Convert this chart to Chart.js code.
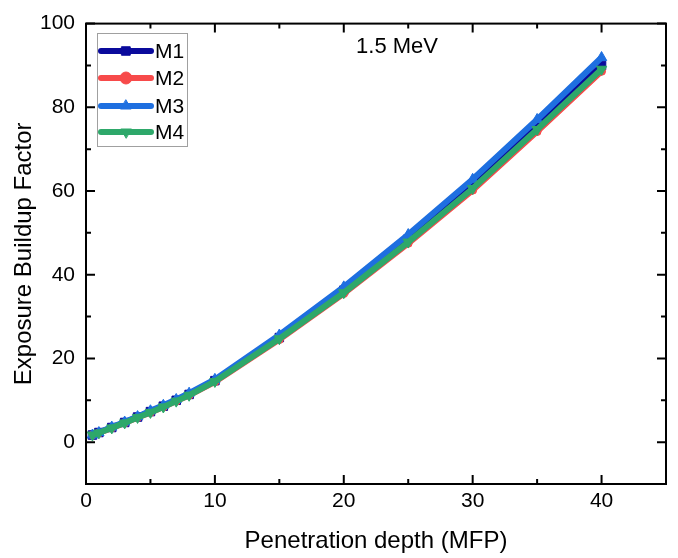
<!DOCTYPE html>
<html>
<head>
<meta charset="utf-8">
<script src="https://cdn.jsdelivr.net/npm/chart.js@4/dist/chart.umd.min.js"></script>
<style>
  html, body { margin: 0; padding: 0; background: #fff; }
  #wrap { width: 678px; height: 558px; position: relative; }
</style>
</head>
<body>
<div id="wrap"><canvas id="chart"></canvas></div>
<script>
// penetration depth (mfp)
const depth = [0.5, 1, 2, 3, 4, 5, 6, 7, 8, 10, 15, 20, 25, 30, 35, 40];

// exposure buildup factor for each material
const m1 = [1.7, 2.3, 3.5, 4.7, 6.0, 7.3, 8.6, 10.0, 11.4, 14.7, 25.0, 36.3, 48.6, 61.5, 75.5, 90.0];
const m2 = [1.7, 2.2, 3.4, 4.6, 5.9, 7.1, 8.4, 9.8, 11.2, 14.4, 24.5, 35.5, 47.5, 60.2, 74.2, 88.6];
const m3 = [1.7, 2.3, 3.6, 4.8, 6.1, 7.5, 8.8, 10.2, 11.7, 15.0, 25.6, 37.1, 49.6, 62.8, 77.1, 91.9];
const m4 = [1.7, 2.2, 3.4, 4.6, 5.9, 7.1, 8.4, 9.8, 11.2, 14.5, 24.7, 35.7, 47.8, 60.6, 74.7, 89.1];

const xTicks = [0, 10, 20, 30, 40];
const yTicks = [0, 20, 40, 60, 80, 100];
const xMinor = [5, 15, 25, 35];
const yMinor = [-10, 10, 30, 50, 70, 90];

const FONT = "'Liberation Sans', Arial, sans-serif";

const series = [
    { label: "M1", data: m1, color: "#0a0a9c", style: "rect", rot: 0, r: 6, order: 4 },
    { label: "M2", data: m2, color: "#f74a4a", style: "circle", rot: 0, r: 4, order: 3 },
    { label: "M3", data: m3, color: "#1e6fe0", style: "triangle", rot: 0, r: 6, order: 2 },
    { label: "M4", data: m4, color: "#2ea86a", style: "triangle", rot: 180, r: 6, order: 1 },
];

const datasets = series.map(s => ({
    label: s.label,
    data: depth.map((x, i) => ({ x: x, y: s.data[i] })),
    borderColor: s.color,
    backgroundColor: s.color,
    borderWidth: 6,
    pointStyle: s.style,
    pointRotation: s.rot,
    pointRadius: s.r,
    pointBorderWidth: 1,
    order: s.order,
    tension: 0,
}));

// рамка, внутренние засечки, легенда и подпись
const framePlugin = {
    id: "frame",
    afterDatasetsDraw(chart) {
        const ctx = chart.ctx;
        const a = chart.chartArea;
        const xs = chart.scales.x, ys = chart.scales.y;
        ctx.save();
        ctx.strokeStyle = "#000";
        ctx.lineWidth = 2;
        ctx.strokeRect(a.left, a.top, a.right - a.left, a.bottom - a.top);

        const tick = (v, len, horiz) => {
            ctx.beginPath();
            if (horiz) {
                const px = xs.getPixelForValue(v);
                ctx.moveTo(px, a.bottom); ctx.lineTo(px, a.bottom - len);
                ctx.moveTo(px, a.top); ctx.lineTo(px, a.top + len);
            } else {
                const py = ys.getPixelForValue(v);
                ctx.moveTo(a.left, py); ctx.lineTo(a.left + len, py);
                ctx.moveTo(a.right, py); ctx.lineTo(a.right - len, py);
            }
            ctx.stroke();
        };
        xTicks.forEach(v => tick(v, 9, true));
        xMinor.forEach(v => tick(v, 5, true));
        yTicks.forEach(v => tick(v, 9, false));
        yMinor.forEach(v => tick(v, 5, false));

        // legend
        ctx.lineWidth = 1;
        ctx.strokeStyle = "#a0a0a0";
        ctx.strokeRect(97.5, 33.5, 90, 113);
        const rows = [51, 78, 106, 132];
        series.forEach((s, i) => {
            const y = rows[i];
            ctx.strokeStyle = s.color;
            ctx.fillStyle = s.color;
            ctx.lineWidth = 6;
            ctx.lineCap = "round";
            ctx.beginPath();
            ctx.moveTo(101, y); ctx.lineTo(151, y);
            ctx.stroke();
            ctx.lineWidth = 1;
            Chart.helpers.drawPoint(ctx, { pointStyle: s.style, rotation: s.rot, radius: 6, borderWidth: 1 }, 126, y);
            ctx.fillStyle = "#000";
            ctx.font = "21px " + FONT;
            ctx.textAlign = "left";
            ctx.textBaseline = "middle";
            ctx.fillText(s.label, 155, y + 1);
        });

        ctx.fillStyle = "#000";
        ctx.font = "22px " + FONT;
        ctx.textAlign = "center";
        ctx.textBaseline = "middle";
        ctx.fillText("1.5 MeV", 397, 47);
        ctx.restore();
    }
};

new Chart(document.getElementById("chart"), {
    type: "line",
    data: { datasets: datasets },
    options: {
        responsive: true,
        maintainAspectRatio: false,
        animation: false,
        layout: { padding: { top: 19, right: 12, left: 0, bottom: 0 } },
        plugins: {
            legend: { display: false },
            tooltip: { enabled: false },
        },
        scales: {
            x: {
                type: "linear",
                min: 0,
                max: 45,
                grid: { display: false, drawTicks: false },
                border: { display: false },
                afterBuildTicks: s => { s.ticks = xTicks.map(v => ({ value: v })); },
                afterFit: s => { s.height = 74; },
                ticks: { color: "#000", font: { family: FONT, size: 21 }, padding: 5, maxRotation: 0 },
                title: {
                    display: true,
                    text: "Penetration depth (MFP)",
                    color: "#000",
                    font: { family: FONT, size: 24 },
                    padding: { top: 0, bottom: 2 },
                },
            },
            y: {
                type: "linear",
                min: -10,
                max: 100,
                grid: { display: false, drawTicks: false },
                border: { display: false },
                afterBuildTicks: s => { s.ticks = yTicks.map(v => ({ value: v })); },
                afterFit: s => { s.width = 86; },
                ticks: { color: "#000", font: { family: FONT, size: 21 }, padding: 11 },
                title: {
                    display: true,
                    text: "Exposure Buildup Factor",
                    color: "#000",
                    font: { family: FONT, size: 24 },
                    padding: { top: 10, bottom: 0 },
                },
            },
        },
    },
    plugins: [framePlugin],
});
</script>
</body>
</html>
